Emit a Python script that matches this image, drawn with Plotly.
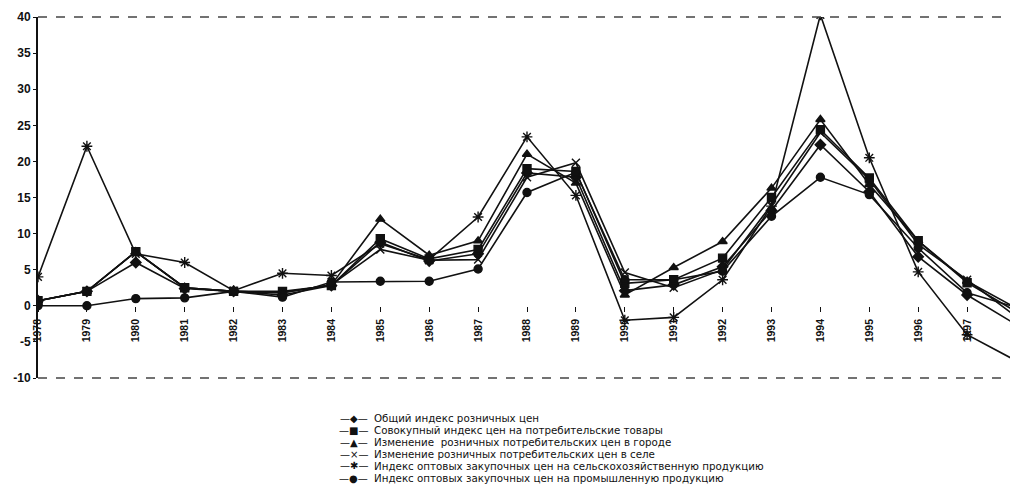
import plotly.graph_objects as go

# ---------------- data ----------------
years = list(range(1978, 1999))

retail_index = [0.7, 2.0, 6.0, 2.4, 2.0, 1.5, 2.8, 8.8, 6.2, 7.2, 18.4, 17.8,
                2.1, 2.9, 5.4, 13.2, 22.3, 15.8, 6.8, 1.5, -2.6]
consumer_index = [0.7, 2.0, 7.5, 2.5, 2.0, 2.0, 2.8, 9.3, 6.5, 7.8, 19.0, 18.6,
                  3.1, 3.6, 6.6, 15.0, 24.4, 17.7, 9.0, 3.2, -0.8]
urban_change = [0.7, 2.0, 7.5, 2.5, 2.0, 1.8, 2.9, 12.0, 7.0, 9.0, 21.0, 17.0,
                1.5, 5.3, 8.9, 16.3, 25.8, 16.8, 9.0, 3.4, -0.3]
rural_change = [0.7, 2.0, 7.5, 2.5, 2.0, 1.8, 2.9, 7.8, 6.3, 6.4, 17.8, 19.8,
                4.6, 2.5, 5.0, 14.0, 24.0, 17.5, 8.5, 3.6, -1.5]
agri_wholesale = [4.0, 22.1, 7.2, 6.0, 2.1, 4.5, 4.2, 8.6, 6.4, 12.3, 23.4, 15.3,
                  -2.0, -1.6, 3.6, 13.8, 40.3, 20.5, 4.7, -4.0, -7.6]
industrial_wholesale = [0.0, 0.0, 1.0, 1.1, 2.0, 1.2, 3.3, 3.4, 3.4, 5.1, 15.7, 18.5,
                        3.6, 3.6, 4.8, 12.4, 17.8, 15.4, 8.0, 1.8, -0.2]

series_names = [
    "Общий индекс розничных цен",
    "Совокупный индекс цен на потребительские товары",
    "Изменение  розничных потребительских цен в городе",
    "Изменение розничных потребительских цен в селе",
    "Индекс оптовых закупочных цен на сельскохозяйственную продукцию",
    "Индекс оптовых закупочных цен на промышленную продукцию",
]
series_values = [retail_index, consumer_index, urban_change, rural_change,
                 agri_wholesale, industrial_wholesale]

y_tick_values = [-10, -5, 0, 5, 10, 15, 20, 25, 30, 35, 40]
y_tick_labels = ["-10", "-5", "0", "5", "10", "15", "20", "25", "30", "35", "40"]

# ---------------- styles ----------------
marker_styles = [
    dict(symbol="diamond", size=8),
    dict(symbol="square", size=8),
    dict(symbol="triangle-up", size=8),
    dict(symbol="x-thin-open", size=8),
    dict(symbol="asterisk-open", size=9),
    dict(symbol="circle", size=8),
]
legend_glyphs = ["—◆—", "—■—", "—▲—", "—×—", "—✱—", "—●—"]

INK = "#111111"
Y_MIN, Y_MAX = -10, 40

# the page body adds an 8px offset, so the figure is sized to fit the window
FIG_W, FIG_H = 1010, 476
M_L, M_R, M_T, M_B = 30, 2, 9, 106
plot_w_px = FIG_W - M_L - M_R
plot_h_px = FIG_H - M_T - M_B
plot_bottom_px = FIG_H - M_B

fig = go.Figure()
for name, vals, ms in zip(series_names, series_values, marker_styles):
    fig.add_trace(go.Scatter(
        x=years, y=vals, name=name, mode="lines+markers",
        line=dict(color=INK, width=1.6),
        marker=dict(color=INK, symbol=ms["symbol"], size=ms["size"],
                    line=dict(color=INK, width=1.4)),
        showlegend=False,
    ))

zero_pos = (0 - Y_MIN) / (Y_MAX - Y_MIN)

fig.update_layout(
    width=FIG_W, height=FIG_H,
    margin=dict(l=M_L, r=M_R, t=M_T, b=M_B),
    paper_bgcolor="white", plot_bgcolor="white",
    font=dict(family="Arial, Liberation Sans, sans-serif", color=INK),
    xaxis=dict(
        range=[years[0], years[-1]],
        tickmode="array", tickvals=years, ticktext=[str(y) for y in years],
        tickangle=-90,
        tickfont=dict(size=10.5, family="Arial, Liberation Sans, sans-serif",
                      color=INK, weight="bold"),
        ticks="outside", ticklen=5, tickwidth=1, tickcolor=INK,
        ticklabelstandoff=3,
        showline=False, showgrid=False, zeroline=False,
        anchor="free", position=zero_pos,
    ),
    yaxis=dict(
        range=[Y_MIN, Y_MAX],
        tickmode="array", tickvals=y_tick_values, ticktext=y_tick_labels,
        tickfont=dict(size=12, family="Arial, Liberation Sans, sans-serif",
                      color=INK, weight="bold"),
        ticks="outside", ticklen=3, tickcolor=INK,
        showline=True, linecolor=INK, linewidth=2,
        showgrid=False, zeroline=False,
    ),
)

# dashed frame (top, bottom, right)
for (x0, y0, x1, y1) in [(0, 1, 1, 1), (0, 0, 1, 0), (1, 0, 1, 1)]:
    fig.add_shape(type="line", xref="paper", yref="paper",
                  x0=x0, y0=y0, x1=x1, y1=y1,
                  line=dict(color="#444444", width=1.3, dash="dash"))

# compact legend block below the chart (figure-pixel positions)
sym_right_px, text_left_px = 361, 365
first_row_px, row_step_px = 410, 12
for i, (name, glyph) in enumerate(zip(series_names, legend_glyphs)):
    y_paper = (plot_bottom_px - (first_row_px + i * row_step_px)) / plot_h_px
    fig.add_annotation(
        xref="paper", yref="paper",
        x=(sym_right_px - M_L) / plot_w_px, y=y_paper,
        xanchor="right", yanchor="middle", showarrow=False, borderpad=0,
        text=glyph, font=dict(size=10, family="DejaVu Sans", color=INK),
    )
    fig.add_annotation(
        xref="paper", yref="paper",
        x=(text_left_px - M_L) / plot_w_px, y=y_paper,
        xanchor="left", yanchor="middle", showarrow=False, borderpad=0,
        text=name, font=dict(size=10.3, family="DejaVu Sans", color=INK),
    )

fig.write_html("out.html")
